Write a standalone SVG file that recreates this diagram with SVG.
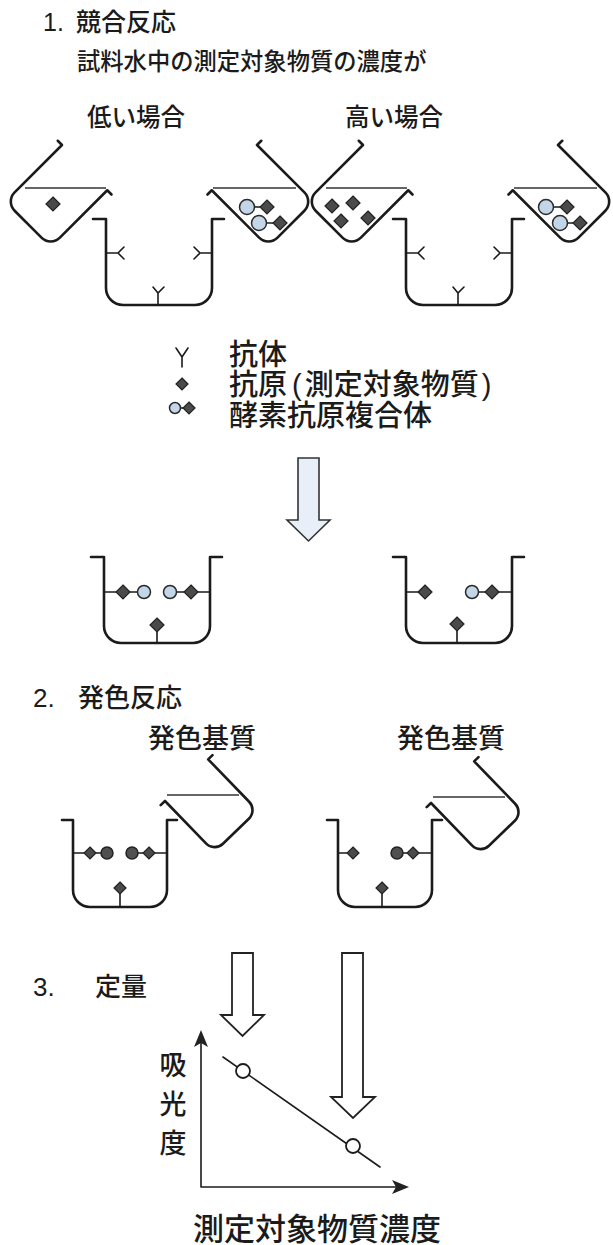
<svg xmlns="http://www.w3.org/2000/svg" xmlns:xlink="http://www.w3.org/1999/xlink" width="613" height="1245" viewBox="0 0 613 1245">
  <style>
    .ln { fill: none; stroke: #1b1b1b; stroke-width: 2.6; stroke-linecap: round; stroke-linejoin: round; }
    .thin { fill: none; stroke: #1b1b1b; stroke-width: 1.6; stroke-linecap: round; }
    .liq { fill: none; stroke: #333; stroke-width: 1.5; }
    .ag { fill: #4a4a4a; stroke: #222; stroke-width: 1.2; }
    .enz { fill: #c3d6e8; stroke: #2a2a2a; stroke-width: 1.5; }
    .dev { fill: #505050; stroke: #222; stroke-width: 1.5; }
    .pt { fill: #fff; stroke: #1b1b1b; stroke-width: 1.8; }
    .bigarrow { fill: #e8eff8; stroke: #333; stroke-width: 1.6; stroke-linejoin: miter; }
    .arrow { fill: #fff; stroke: #222; stroke-width: 1.8; stroke-linejoin: miter; }
    .head { fill: #222; stroke: none; }
    text { font-family: "Liberation Sans", "Noto Sans CJK JP", sans-serif; font-weight: 500; fill: #1b1b1b; }
  </style>
  <defs>
    <!-- tilted beaker body in local coords: U with outward lips -->
    <path id="beaker" d="M-6,0 L0,0 L0,67 A13,13 0 0 0 13,80 L51,80 A13,13 0 0 0 64,67 L64,0 L70,0"/>
    <path id="beakerS" d="M-6,0 L0,0 L0,59 A12,12 0 0 0 12,71 L48,71 A12,12 0 0 0 60,59 L60,0 L66,0"/>
    <!-- reaction well -->
    <path id="well" d="M-13,0 L0,0 L0,69 A17,17 0 0 0 17,86 L89,86 A17,17 0 0 0 106,69 L106,0 L118,0"/>
    <path id="wellS" d="M-11,0 L0,0 L0,70 A17,17 0 0 0 17,87 L77,87 A17,17 0 0 0 94,70 L94,0 L104,0"/>
    <!-- antigen diamond -->
    <path id="ag" d="M0,-7 L7,0 L0,7 L-7,0 Z"/>
    <path id="agS" d="M0,-6 L6,0 L0,6 L-6,0 Z"/>
    <!-- antibodies on the well walls -->
    <g id="antibodies" class="thin">
      <path d="M0,34 L12,34 M18,28 L12,34 L18,40"/>
      <path d="M106,34 L94,34 M88,28 L94,34 L88,40"/>
      <path d="M52,86 L52,74 M47,68 L52,74 L58,68"/>
    </g>
  </defs>

  <!-- headings -->
  <g id="titles">
    <text x="43" y="31" font-size="25">1.<tspan x="76">競合反応</tspan></text>
    <text x="77" y="70" font-size="23.3">試料水中の測定対象物質の濃度が</text>
    <text x="87" y="126" font-size="24.5">低い場合</text>
    <text x="345" y="126" font-size="24.5">高い場合</text>
  </g>

  <!-- step 1: low concentration -->
  <g id="beaker-low-sample">
    <use xlink:href="#beaker" class="ln" transform="translate(62,145) rotate(45)"/>
    <path class="liq" d="M25,188 L106,188"/>
    <use xlink:href="#ag" class="ag" x="53" y="204"/>
  </g>
  <g id="well-low">
    <use xlink:href="#well" class="ln" transform="translate(106,219)"/>
    <use xlink:href="#antibodies" transform="translate(106,219)"/>
  </g>
  <g id="beaker-low-enzyme">
    <use xlink:href="#beaker" class="ln" transform="translate(319,0) scale(-1,1) translate(62,145) rotate(45)"/>
    <path class="liq" d="M213,188 L296,188"/>
    <path class="thin" d="M254,207 L260,207 M266,223 L273,223"/>
    <circle class="enz" cx="247" cy="207" r="7.5"/>
    <use xlink:href="#ag" class="ag" x="267" y="207"/>
    <circle class="enz" cx="259" cy="223" r="7.5"/>
    <use xlink:href="#ag" class="ag" x="280" y="223"/>
  </g>

  <!-- step 1: high concentration -->
  <g id="beaker-high-sample">
    <use xlink:href="#beaker" class="ln" transform="translate(363,145) rotate(45)"/>
    <path class="liq" d="M326,188 L407,188"/>
    <use xlink:href="#ag" class="ag" x="332" y="206"/>
    <use xlink:href="#ag" class="ag" x="353" y="203"/>
    <use xlink:href="#ag" class="ag" x="341" y="221"/>
    <use xlink:href="#ag" class="ag" x="368" y="218"/>
  </g>
  <g id="well-high">
    <use xlink:href="#well" class="ln" transform="translate(406,219)"/>
    <use xlink:href="#antibodies" transform="translate(406,219)"/>
  </g>
  <g id="beaker-high-enzyme">
    <use xlink:href="#beaker" class="ln" transform="translate(620,0) scale(-1,1) translate(62,145) rotate(45)"/>
    <path class="liq" d="M514,188 L597,188"/>
    <path class="thin" d="M553,207 L560,207 M567,223 L573,223"/>
    <circle class="enz" cx="546" cy="207" r="7.5"/>
    <use xlink:href="#ag" class="ag" x="567" y="207"/>
    <circle class="enz" cx="560" cy="223" r="7.5"/>
    <use xlink:href="#ag" class="ag" x="580" y="223"/>
  </g>

  <!-- legend -->
  <g id="legend">
    <path class="thin" d="M176,348 L182,357 L188,348 M182,357 L182,367"/>
    <text x="229" y="365" font-size="29">抗体</text>
    <use xlink:href="#agS" class="ag" x="182" y="384"/>
    <text x="229" y="395" font-size="29">抗原<tspan dx="5">(</tspan><tspan dx="3">測定対象物質</tspan><tspan dx="3">)</tspan></text>
    <path class="thin" d="M180,408 L184,408"/>
    <circle class="enz" cx="175" cy="408" r="5.5"/>
    <use xlink:href="#agS" class="ag" x="189" y="408"/>
    <text x="229" y="426" font-size="29">酵素抗原複合体</text>
  </g>

  <!-- connectors -->
  <g id="connectors">
    <path class="bigarrow" d="M298,458 L319,458 L319,520 L330,520 L308.5,541 L287,520 L298,520 Z"/>
    <path class="arrow" d="M232,953 L253,953 L253,1015 L264,1015 L242.5,1036 L221,1015 L232,1015 Z"/>
    <path class="arrow" d="M342,953 L363,953 L363,1097 L375,1097 L353,1118 L331,1097 L342,1097 Z"/>
  </g>

  <!-- after washing -->
  <g id="well-low-bound">
    <use xlink:href="#well" class="ln" transform="translate(104,557)"/>
    <path class="thin" d="M104,592 L116,592 M130,592 L138,592 M176,592 L184,592 M198,592 L210,592 M157,632 L157,642"/>
    <use xlink:href="#ag" class="ag" x="123" y="592"/>
    <circle class="enz" cx="144" cy="592" r="6.5"/>
    <circle class="enz" cx="170" cy="592" r="6.5"/>
    <use xlink:href="#ag" class="ag" x="191" y="592"/>
    <use xlink:href="#ag" class="ag" x="157" y="625"/>
  </g>
  <g id="well-high-bound">
    <use xlink:href="#well" class="ln" transform="translate(406,557)"/>
    <path class="thin" d="M406,592 L418,592 M478,592 L486,592 M499,592 L512,592 M457,631 L457,642"/>
    <use xlink:href="#ag" class="ag" x="425" y="592"/>
    <circle class="enz" cx="472" cy="592" r="6.5"/>
    <use xlink:href="#ag" class="ag" x="492" y="592"/>
    <use xlink:href="#ag" class="ag" x="457" y="624"/>
  </g>

  <!-- step 2 -->
  <g id="step2-titles">
    <text x="33" y="707" font-size="26">2.<tspan x="78">発色反応</tspan></text>
    <text x="148" y="748" font-size="27">発色基質</text>
    <text x="397" y="748" font-size="27">発色基質</text>
  </g>
  <g id="well-low-color">
    <use xlink:href="#wellS" class="ln" transform="translate(73,820)"/>
    <path class="thin" d="M73,853 L84,853 M96,853 L102,853 M137,853 L143,853 M155,853 L167,853 M120,894 L120,907"/>
    <use xlink:href="#agS" class="ag" x="90" y="853"/>
    <circle class="dev" cx="107" cy="853" r="6"/>
    <circle class="dev" cx="132" cy="853" r="6"/>
    <use xlink:href="#agS" class="ag" x="149" y="853"/>
    <use xlink:href="#agS" class="ag" x="120" y="888"/>
  </g>
  <g id="substrate-low">
    <use xlink:href="#beakerS" class="ln" transform="translate(165,801) rotate(-44)"/>
    <path class="liq" d="M167,795 L239,795"/>
  </g>
  <g id="well-high-color">
    <use xlink:href="#wellS" class="ln" transform="translate(338,820)"/>
    <path class="thin" d="M338,853 L347,853 M402,853 L407,853 M419,853 L432,853 M382,894 L382,907"/>
    <use xlink:href="#agS" class="ag" x="353" y="853"/>
    <circle class="dev" cx="397" cy="853" r="6"/>
    <use xlink:href="#agS" class="ag" x="413" y="853"/>
    <use xlink:href="#agS" class="ag" x="382" y="888"/>
  </g>
  <g id="substrate-high">
    <use xlink:href="#beakerS" class="ln" transform="translate(431,803) rotate(-44)"/>
    <path class="liq" d="M433,797 L505,797"/>
  </g>

  <!-- step 3 -->
  <g id="step3-title">
    <text x="33" y="996" font-size="26">3.<tspan x="95">定量</tspan></text>
  </g>
  <g id="graph">
    <path class="thin" d="M201,1187 L201,1042 M201,1187 L396,1187"/>
    <path class="head" d="M201,1030 L208,1047 L201,1043 L194,1047 Z"/>
    <path class="head" d="M409,1187 L392,1180 L396,1187 L392,1194 Z"/>
    <path class="thin" d="M223,1057 L380,1167"/>
    <circle class="pt" cx="243" cy="1071" r="7"/>
    <circle class="pt" cx="353" cy="1146" r="7"/>
    <text x="173" y="1075" font-size="27" text-anchor="middle">吸</text>
    <text x="173" y="1114" font-size="27" text-anchor="middle">光</text>
    <text x="173" y="1153" font-size="27" text-anchor="middle">度</text>
    <text x="193" y="1240" font-size="31">測定対象物質濃度</text>
  </g>
</svg>
